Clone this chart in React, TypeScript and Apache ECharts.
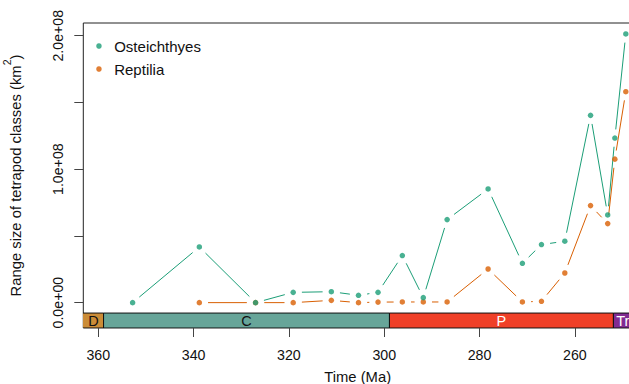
import React, { useEffect, useRef } from "react";
import * as echarts from "echarts";

// Time (Ma) of each sample bin
const times = [352.8, 338.8, 327.0, 319.1, 311.1, 305.4, 301.3, 296.2, 291.8, 286.8, 278.2, 271.0, 267.0, 262.1, 256.7, 253.1, 251.6, 249.3];
// Range size (km^2)
const osteichthyes = [0, 0.417e8, 0, 0.077e8, 0.082e8, 0.055e8, 0.077e8, 0.353e8, 0.0375e8, 0.622e8, 0.852e8, 0.295e8, 0.435e8, 0.46e8, 1.403e8, 0.657e8, 1.233e8, 2.013e8];
const reptilia = [null, 0, 0, 0, 0.017e8, 0, 0.004e8, 0.005e8, 0.005e8, 0.005e8, 0.252e8, 0.005e8, 0.01e8, 0.222e8, 0.727e8, 0.592e8, 1.075e8, 1.58e8];

const periodNames = ["D", "C", "P", "Tr"];
const periodStart = [419.2, 358.9, 298.9, 251.9];
const periodEnd = [358.9, 298.9, 251.9, 201.4];

const xTicks = [360, 340, 320, 300, 280, 260];
const yTicks = [0, 0.5e8, 1e8, 1.5e8, 2e8];
const yTickLabels = [0, 1e8, 2e8];

const GREEN = "#1B9E77";
const ORANGE = "#D95F02";
const periodColors = ["#CB8C37", "#67A599", "#F04028", "#812B92"];
const periodTextColors = ["#111", "#111", "#fff", "#fff"];
const FONT = "'Liberation Sans', Arial, sans-serif";
const FS_TICK = 14.2;
const FS_TITLE = 14.8;
const FS_LEGEND = 15;
const GAP = 8.7;
const BAR_TOP = -0.078e8;
const Y_MIN = -0.19e8;
const Y_MAX = 2.095e8;

function segments(vals: (number | null)[]) {
  const out: number[][] = [];
  let prev = -1;
  for (let i = 0; i < vals.length; i++) {
    if (vals[i] == null) continue;
    if (prev >= 0) out.push([times[prev], vals[prev] as number, times[i], vals[i] as number]);
    prev = i;
  }
  return out;
}

function points(vals: (number | null)[]) {
  const out: number[][] = [];
  vals.forEach((v, i) => {
    if (v != null) out.push([times[i], v]);
  });
  return out;
}

function fmtExp(v: number) {
  const s = v.toExponential(1);
  const [m, e] = s.split("e");
  const sign = e[0] === "-" ? "-" : "+";
  const digits = e.replace(/[+-]/, "").padStart(2, "0");
  return `${m}e${sign}${digits}`;
}

function lineRenderer(color: string) {
  return (params: any, api: any) => {
    const p0 = api.coord([api.value(0), api.value(1)]);
    const p1 = api.coord([api.value(2), api.value(3)]);
    const dx = p1[0] - p0[0];
    const dy = p1[1] - p0[1];
    const len = Math.hypot(dx, dy);
    if (len <= 2 * GAP) return { type: "group", children: [] };
    const ux = dx / len;
    const uy = dy / len;
    return {
      type: "line",
      shape: {
        x1: p0[0] + ux * GAP,
        y1: p0[1] + uy * GAP,
        x2: p1[0] - ux * GAP,
        y2: p1[1] - uy * GAP,
      },
      style: { stroke: color, lineWidth: 1 },
    };
  };
}

export default function App() {
  const ref = useRef<HTMLDivElement>(null);
  useEffect(() => {
    document.body.style.margin = "0";
    const chart = echarts.init(ref.current!, null, { renderer: "svg" });
    const periodData = periodNames.map((_, i) => [periodStart[i], periodEnd[i], i]);
    chart.setOption({
      animation: false,
      textStyle: { fontFamily: FONT },
      grid: {
        left: 83.3,
        top: 23,
        right: -3,
        bottom: 56,
        outerBoundsMode: "none",
        containLabel: false,
        show: true,
        borderColor: "#222",
        borderWidth: 1,
        backgroundColor: "transparent",
      },
      legend: {
        orient: "vertical",
        left: 96.2,
        top: 38,
        padding: 0,
        itemWidth: 5.5,
        itemHeight: 5.5,
        itemGap: 7,
        data: [
          { name: "Osteichthyes", icon: "circle" },
          { name: "Reptilia", icon: "circle" },
        ],
        textStyle: { fontFamily: FONT, fontSize: FS_LEGEND, color: "#111", lineHeight: 16, padding: [0, 0, 0, 7.5] },
      },
      xAxis: {
        type: "value",
        inverse: true,
        min: 248.0,
        max: 363.15,
        position: "bottom",
        name: "Time (Ma)",
        nameLocation: "middle",
        nameGap: 41.4,
        nameTextStyle: { fontFamily: FONT, fontSize: FS_TITLE, color: "#111" },
        axisLine: { show: false, onZero: false },
        splitLine: { show: false },
        axisTick: { show: true, length: 9, customValues: xTicks, lineStyle: { color: "#444" } },
        axisLabel: {
          customValues: xTicks,
          margin: 20,
          fontFamily: FONT,
          fontSize: FS_TICK,
          color: "#111",
        },
      },
      yAxis: {
        type: "value",
        min: Y_MIN,
        max: Y_MAX,
        name: "{a|Range size of tetrapod classes (km}{s|2}{a|)}",
        nameLocation: "middle",
        nameGap: 53.5,
        nameTextStyle: {
          fontFamily: FONT,
          fontSize: FS_TITLE,
          color: "#111",
          rich: {
            a: { fontFamily: FONT, fontSize: FS_TITLE, color: "#111", lineHeight: 28 },
            s: { fontFamily: FONT, fontSize: 10.5, color: "#111", lineHeight: 8, verticalAlign: "top" },
          },
        },
        axisLine: { show: false, onZero: false },
        splitLine: { show: false },
        axisTick: { show: true, length: 9, customValues: yTicks, lineStyle: { color: "#444" } },
        axisLabel: {
          customValues: yTickLabels,
          rotate: 90,
          margin: 18.8,
          fontFamily: FONT,
          fontSize: FS_TICK,
          color: "#111",
          formatter: (v: number) => fmtExp(v),
        },
      },
      series: [
        {
          type: "custom",
          name: "periods",
          clip: true,
          silent: true,
          data: periodData,
          encode: { x: [0, 1] },
          renderItem: (params: any, api: any) => {
            const idx = api.value(2);
            const cs = params.coordSys;
            const a = api.coord([api.value(0), BAR_TOP]);
            const b = api.coord([api.value(1), Y_MIN]);
            const x0 = Math.min(a[0], b[0]);
            const x1 = Math.max(a[0], b[0]);
            const vx0 = Math.max(x0, cs.x);
            const vx1 = Math.min(x1, cs.x + cs.width);
            return {
              type: "group",
              children: [
                {
                  type: "rect",
                  shape: { x: x0, y: a[1], width: x1 - x0, height: b[1] - a[1] },
                  style: { fill: periodColors[idx], stroke: "#111", lineWidth: 1 },
                },
                {
                  type: "text",
                  style: {
                    text: periodNames[idx],
                    x: (vx0 + vx1) / 2,
                    y: (a[1] + b[1]) / 2 + 0.5,
                    align: "center",
                    verticalAlign: "middle",
                    fontFamily: FONT,
                    fontSize: 14.5,
                    fill: periodTextColors[idx],
                  },
                },
              ],
            };
          },
        },
        {
          type: "custom",
          name: "ReptiliaLine",
          clip: true,
          silent: true,
          data: segments(reptilia),
          encode: { x: [0, 2], y: [1, 3] },
          renderItem: lineRenderer(ORANGE),
        },
        {
          type: "custom",
          name: "OsteichthyesLine",
          clip: true,
          silent: true,
          data: segments(osteichthyes),
          encode: { x: [0, 2], y: [1, 3] },
          renderItem: lineRenderer(GREEN),
        },
        {
          type: "scatter",
          name: "Reptilia",
          symbol: "circle",
          symbolSize: 5.5,
          itemStyle: { color: ORANGE },
          data: points(reptilia),
          z: 3,
        },
        {
          type: "scatter",
          name: "Osteichthyes",
          symbol: "circle",
          symbolSize: 5.5,
          itemStyle: { color: GREEN },
          data: points(osteichthyes),
          z: 4,
        },
      ],
    });
    return () => chart.dispose();
  }, []);
  return <div ref={ref} style={{ width: 629, height: 384 }} />;
}
